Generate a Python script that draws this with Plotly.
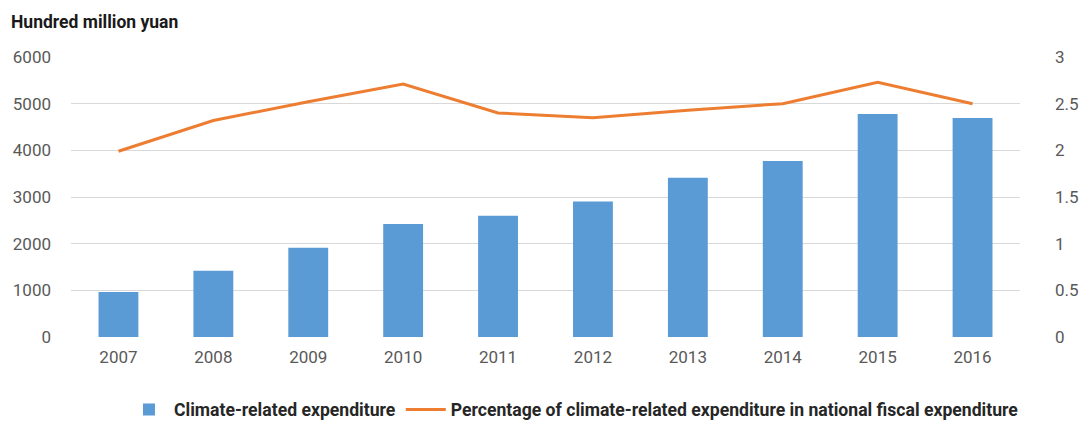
import plotly.graph_objects as go

# ── Data ─────────────────────────────────────────────
years = ["2007", "2008", "2009", "2010", "2011", "2012", "2013", "2014", "2015", "2016"]
expenditure = [965, 1420, 1915, 2420, 2600, 2905, 3415, 3770, 4780, 4695]
percentage = [1.99, 2.32, 2.52, 2.71, 2.40, 2.35, 2.43, 2.50, 2.73, 2.50]

BLUE = "#5B9BD5"
ORANGE = "#ED7D31"
GRID = "#D9D9D9"
TICK = "#595959"
FONT = "Roboto, sans-serif"

fig = go.Figure()

fig.add_trace(go.Bar(
    x=years, y=expenditure, name="Climate-related expenditure",
    marker=dict(color=BLUE, line_width=0),
))
fig.add_trace(go.Scatter(
    x=years, y=percentage, yaxis="y2", mode="lines",
    name="Percentage of climate-related expenditure in national fiscal expenditure",
    line=dict(color=ORANGE, width=3),
))

# the page body has an 8px margin: keep the figure inside the 1092x430 window
fig.update_layout(
    width=1076, height=414,
    plot_bgcolor="white", paper_bgcolor="white",
    font=dict(family=FONT, color=TICK, size=16),
    margin=dict(l=63, r=64, t=49, b=85),
    bargap=0.58,
    showlegend=True,
    legend=dict(
        orientation="h", xref="container", yref="container",
        x=0.526, xanchor="center", y=0.03, yanchor="middle",
        font=dict(size=17.6, color="#262626", weight="bold"),
        traceorder="normal", itemwidth=40,
    ),
    xaxis=dict(
        showgrid=False, zeroline=False, showline=False, ticks="",
        tickfont=dict(size=17, color=TICK), automargin=False,
        ticklabelstandoff=8,
    ),
    yaxis=dict(
        range=[0, 6000], dtick=1000, showgrid=True, gridcolor=GRID, gridwidth=1.3,
        zeroline=False, showline=False, ticks="", tickfont=dict(size=17, color=TICK),
        ticklabelstandoff=19, automargin=False,
    ),
    yaxis2=dict(
        range=[0, 3], dtick=0.5, overlaying="y", side="right", showgrid=False,
        zeroline=False, showline=False, ticks="", tickfont=dict(size=17, color=TICK),
        ticklabelstandoff=34, automargin=False,
    ),
    annotations=[dict(
        text="<b>Hundred million yuan</b>", xref="paper", yref="paper",
        x=0, y=1.0, xanchor="left", yanchor="middle", xshift=-62, yshift=35,
        showarrow=False, font=dict(size=17.5, color="#1A1A1A"),
    )],
)

fig.write_html("out.html")
